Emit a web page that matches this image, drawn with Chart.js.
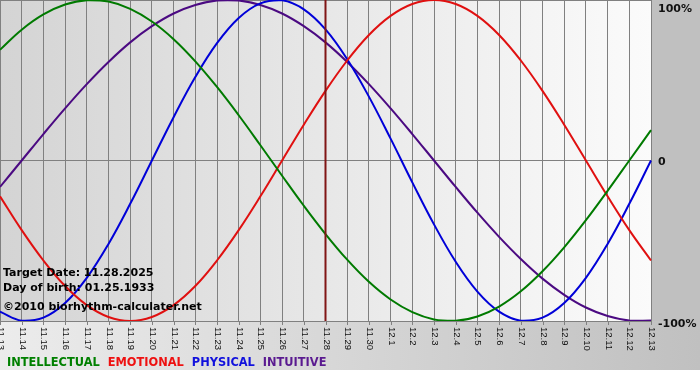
<!DOCTYPE html>
<html>
<head>
<meta charset="utf-8">
<script src="https://cdn.jsdelivr.net/npm/chart.js@4/dist/chart.umd.min.js"></script>
<style>
  html, body { margin: 0; padding: 0; background: #ffffff; }
  #wrap { width: 700px; height: 380px; }
</style>
</head>
<body>
<div id="wrap"><canvas id="bioChart" width="700" height="380"></canvas></div>
<script>
const dayLabels = [
  "11.13", "11.14", "11.15", "11.16", "11.17", "11.18", "11.19", "11.20",
  "11.21", "11.22", "11.23", "11.24", "11.25", "11.26", "11.27", "11.28",
  "11.29", "11.30", "12.1", "12.2", "12.3", "12.4", "12.5", "12.6",
  "12.7", "12.8", "12.9", "12.10", "12.11", "12.12", "12.13",
];

const intellectual = [
  69.0, 81.5, 91.0, 97.2, 99.9, 99.0, 94.5, 86.6, 75.6, 61.8, 45.8, 28.2, 9.5,
  -9.5, -28.2, -45.8, -61.8, -75.6, -86.6, -94.5, -99.0, -99.9, -97.2, -91.0,
  -81.5, -69.0, -54.1, -37.2, -18.9, 0, 18.9,
];
const emotional = [
  -22.3, -43.4, -62.3, -78.2, -90.1, -97.5, -100, -97.5, -90.1, -78.2, -62.3,
  -43.4, -22.3, 0, 22.3, 43.4, 62.3, 78.2, 90.1, 97.5, 100, 97.5, 90.1, 78.2,
  62.3, 43.4, 22.3, 0, -22.3, -43.4, -62.3,
];
const physical = [
  -94.2, -99.8, -97.9, -88.8, -73.1, -52.0, -27.0, 0, 27.0, 52.0, 73.1, 88.8,
  97.9, 99.8, 94.2, 81.7, 63.1, 39.8, 13.6, -13.6, -39.8, -63.1, -81.7, -94.2,
  -99.8, -97.9, -88.8, -73.1, -52.0, -27.0, 0,
];
const intuitive = [
  -16.5, 0, 16.5, 32.5, 47.6, 61.4, 73.6, 83.7, 91.6, 96.9, 99.7, 99.7, 96.9,
  91.6, 83.7, 73.6, 61.4, 47.6, 32.5, 16.5, 0, -16.5, -32.5, -47.6, -61.4,
  -73.6, -83.7, -91.6, -96.9, -99.7, -99.7,
];

const targetDay = "11.28";
const infoLines = ["Target Date: 11.28.2025", "Day of birth: 01.25.1933"];
const copyrightText = "\u00a92010 biorhythm-calculater.net";
const yLabels = [
  { value: 100, text: "100%" },
  { value: 0, text: "0" },
  { value: -100, text: "-100%" },
];
const legendItems = [
  { text: "INTELLECTUAL", colour: "#008000" },
  { text: "EMOTIONAL", colour: "#ee1111" },
  { text: "PHYSICAL", colour: "#1111dd" },
  { text: "INTUITIVE", colour: "#5a1a90" },
];

const lineColours = {
  intellectual: "#007a00",
  emotional: "#e01010",
  physical: "#0000d8",
  intuitive: "#4b0a82",
};

// backgrounds: grey panels around, gradient inside the plot
const backgroundPlugin = {
  id: "backgrounds",
  beforeDraw(chart) {
    const ctx = chart.ctx;
    const a = chart.chartArea;
    ctx.save();
    ctx.fillStyle = "#ffffff";
    ctx.fillRect(0, 0, chart.width, chart.height);
    // right side panel
    ctx.fillStyle = "#c0c0c0";
    ctx.fillRect(a.right, 0, chart.width - a.right, a.bottom);
    // bottom band
    let g = ctx.createLinearGradient(0, 0, chart.width, 0);
    g.addColorStop(0, "#ececec");
    g.addColorStop(1, "#c0c0c0");
    ctx.fillStyle = g;
    ctx.fillRect(0, a.bottom, chart.width, 370 - a.bottom);
    // plot area
    g = ctx.createLinearGradient(a.left, 0, a.right, 0);
    g.addColorStop(0, "#d4d4d4");
    g.addColorStop(1, "#fbfbfb");
    ctx.fillStyle = g;
    ctx.fillRect(a.left, a.top, a.right - a.left, a.bottom - a.top);
    ctx.restore();
  },
};

// marker line, tick labels, side labels, info text and legend
const labelsPlugin = {
  id: "labels",
  afterDatasetsDraw(chart) {
    const ctx = chart.ctx;
    const x = chart.scales.x;
    const a = chart.chartArea;
    const mx = x.getPixelForValue(dayLabels.indexOf(targetDay));
    ctx.save();
    ctx.strokeStyle = "#801515";
    ctx.lineWidth = 2;
    ctx.beginPath();
    ctx.moveTo(mx, a.top);
    ctx.lineTo(mx, a.bottom);
    ctx.stroke();
    ctx.restore();
  },
  afterDraw(chart) {
    const ctx = chart.ctx;
    const x = chart.scales.x;
    const y = chart.scales.y;
    const a = chart.chartArea;
    ctx.save();

    // tick stubs and rotated day labels
    ctx.strokeStyle = "#808080";
    ctx.lineWidth = 1;
    ctx.fillStyle = "#111111";
    ctx.font = "9.5px 'Liberation Sans'";
    ctx.textBaseline = "middle";
    ctx.textAlign = "left";
    dayLabels.forEach((lab, i) => {
      const px = Math.round(x.getPixelForValue(i)) + 0.5;
      ctx.beginPath();
      ctx.moveTo(px, a.bottom);
      ctx.lineTo(px, a.bottom + 4);
      ctx.stroke();
      ctx.save();
      ctx.translate(px, a.bottom + 6);
      ctx.rotate(Math.PI / 2);
      ctx.fillText(lab, 0, 0);
      ctx.restore();
    });

    // right side percent labels
    ctx.font = "bold 11px 'DejaVu Sans'";
    ctx.textBaseline = "middle";
    yLabels.forEach((l) => {
      let py = y.getPixelForValue(l.value);
      if (l.value === 100) py = 7;
      if (l.value === -100) py = 322;
      ctx.fillText(l.text, a.right + 7, py + 2);
    });

    // info text
    ctx.textBaseline = "alphabetic";
    ctx.fillStyle = "#000000";
    infoLines.forEach((t, i) => {
      ctx.fillText(t, 3, 276 + i * 15);
    });
    ctx.fillText(copyrightText, 3, 310);

    // legend
    ctx.font = "bold 11.4px 'DejaVu Sans'";
    let lx = 7;
    legendItems.forEach((item) => {
      ctx.fillStyle = item.colour;
      ctx.fillText(item.text, lx, 366);
      lx += ctx.measureText(item.text).width + 8;
    });
    ctx.restore();
  },
};

function makeDataset(label, values, colour) {
  return {
    label: label,
    data: values,
    borderColor: colour,
    borderWidth: 2,
    pointRadius: 0,
    fill: false,
    tension: 0.4,
  };
}

const ctx = document.getElementById("bioChart");
new Chart(ctx, {
  type: "line",
  data: {
    labels: dayLabels,
    datasets: [
      makeDataset("INTELLECTUAL", intellectual, lineColours.intellectual),
      makeDataset("EMOTIONAL", emotional, lineColours.emotional),
      makeDataset("PHYSICAL", physical, lineColours.physical),
      makeDataset("INTUITIVE", intuitive, lineColours.intuitive),
    ],
  },
  options: {
    responsive: false,
    animation: false,
    events: [],
    layout: {
      padding: { left: 0, top: 0, right: 49, bottom: 59 },
    },
    plugins: {
      legend: { display: false },
      tooltip: { enabled: false },
    },
    scales: {
      x: {
        offset: false,
        border: { display: false },
        grid: { color: "#808080", drawTicks: false, lineWidth: 1 },
        ticks: { display: false },
      },
      y: {
        min: -100,
        max: 100,
        border: { display: false },
        grid: { color: "#808080", drawTicks: false, lineWidth: 1 },
        ticks: { display: false, stepSize: 100 },
      },
    },
  },
  plugins: [backgroundPlugin, labelsPlugin],
});
</script>
</body>
</html>
